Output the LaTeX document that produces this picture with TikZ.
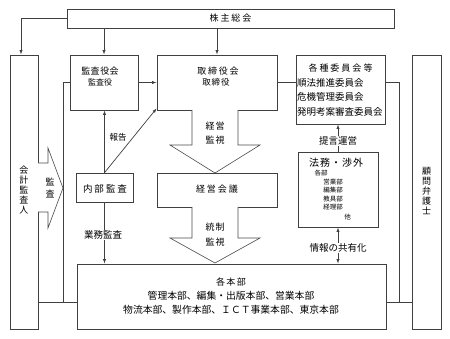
\documentclass[tikz,border=0pt]{standalone}
\usepackage{fontspec}
\setmainfont{Noto Sans CJK JP}
\usetikzlibrary{arrows.meta}
\newcommand\fsz[1]{\fontsize{#1}{#1}\selectfont}
\begin{document}
\begin{tikzpicture}[x=1pt,y=-1pt,
 box/.style={draw=black!75, line width=0.7pt, fill=white, inner sep=0pt},
 lbl/.style={inner sep=0.5pt, text=black},
 onl/.style={lbl, fill=white, inner sep=1pt},
 conn/.style={draw=black!75, line width=0.7pt},
 arr/.style={conn, -{Latex[length=4.5pt,width=3.2pt]}},
 darr/.style={conn, {Latex[length=4.5pt,width=3.2pt]}-{Latex[length=4.5pt,width=3.2pt]}},
 hollow/.style={draw=black!70, line width=0.6pt, fill=white}
]
\useasboundingbox[fill=white] (0,0) rectangle (450,339);

% boxes
\node[box, minimum width=327, minimum height=19] (kabu) at (230.5,18.5) {};
\node[box, minimum width=28, minimum height=274] (kaikei) at (24,192) {};
\node[box, minimum width=29, minimum height=274] (komon) at (426.5,192) {};
\node[box, minimum width=68, minimum height=55] (kansa) at (104,82.5) {};
\node[box, minimum width=120, minimum height=55] (tori) at (217,82.5) {};
\node[box, minimum width=89, minimum height=69] (iinkai) at (340.5,89.5) {};
\node[box, minimum width=57, minimum height=29] (naibu) at (104.5,187.5) {};
\node[box, minimum width=120, minimum height=34] (keiei) at (217,190) {};
\node[box, minimum width=80, minimum height=75] (houmu) at (338,189.5) {};
\node[box, minimum width=309, minimum height=65] (honbu) at (231.5,296.5) {};

% frame coordinates
\coordinate (fl) at (63,302);
\coordinate (fr) at (399,302);

% connectors
\draw[arr] (kabu.west) -| ([xshift=-3]kaikei.north);
\draw[arr] (kabu.south -| kansa.north) -- (kansa.north);
\draw[arr] (kabu.south -| tori.north) -- (tori.north);
\draw[arr] (kansa.east) -- (tori.west);
\draw[conn] (tori.east) -- (tori.east -| iinkai.west);
\draw[arr] (naibu.north) -- (naibu.north |- kansa.south);
\draw[arr] (naibu.north) -- ([yshift=2]tori.south west);
\draw[arr] (naibu.south) -- (naibu.south |- honbu.north);
\draw[arr] (houmu.north) -- (houmu.north |- iinkai.south);
\draw[darr] (houmu.south) -- (houmu.south |- honbu.north);

% frame
\draw[conn] (kansa.west) -| (fl);
\draw[conn] (kaikei.east |- fl) -- (honbu.west |- fl);
\draw[conn] (iinkai.east |- tori.east) -| (fr);
\draw[conn] (honbu.east |- fr) -- (komon.west |- fr);

% hollow arrows
\draw[hollow] (38,163) -- (48,163) -- (48,148) -- (63,188) -- (48,228) -- (48,212) -- (38,212);
\draw[hollow] (192,110) -- (192,145) -- (170,145) -- (215,173) -- (260,145) -- (238,145) -- (238,110);
\draw[hollow] (192,207) -- (192,238) -- (170,238) -- (215,263) -- (260,238) -- (238,238) -- (238,207);

% texts
\node[lbl, font=\fsz{9}] (t1) at (230.5,18.5) {株\kern2pt 主\kern2pt 総\kern2pt 会};
\node[lbl, font=\fsz{9}] (t2) at (100,71) {監\kern0.5pt 査\kern0.5pt 役\kern0.5pt 会};
\node[lbl, font=\fsz{8}] (t3) at (100,82) {監査役};
\node[lbl, font=\fsz{9}] (t4) at (218,71) {取\kern1.7pt 締\kern1.7pt 役\kern1.7pt 会};
\node[lbl, font=\fsz{8.5}] (t5) at (216,82) {取\kern1pt 締\kern1pt 役};
\node[lbl, font=\fsz{9}] (t6) at (340.5,68) {各\kern2pt 種\kern2pt 委\kern2pt 員\kern2pt 会\kern2pt 等};
\node[lbl, font=\fsz{9.5}, anchor=west] (t7) at (296.5,82.5) {順法推進委員会};
\node[lbl, font=\fsz{9.5}, anchor=west] (t8) at (296.5,97) {危機管理委員会};
\node[lbl, font=\fsz{9.5}, anchor=west] (t9) at (296.5,112) {発明考案審査委員会};
\node[lbl, font=\fsz{9.5}] (t10) at (105,189) {内\kern2pt 部\kern2pt 監\kern2pt 査};
\node[lbl, font=\fsz{9}] (t11) at (217,189) {経\kern2pt 営\kern2pt 会\kern2pt 議};
\node[lbl, font=\fsz{8.5}] (t12) at (118,137) {報告};
\node[onl, font=\fsz{9.5}] (t13) at (103,235) {業務監査};
\node[lbl, font=\fsz{9}] (t14) at (215,126) {経\kern1pt 営};
\node[lbl, font=\fsz{9}] (t15) at (215,140) {監\kern1pt 視};
\node[lbl, font=\fsz{9}] (t16) at (215,227) {統\kern1pt 制};
\node[lbl, font=\fsz{9}] (t17) at (215,242) {監\kern1pt 視};
\node[lbl, font=\fontsize{9}{12}\selectfont, align=center] (t18) at (50,188) {監\\査};
\node[lbl, font=\fontsize{9}{10}\selectfont, align=center] (t19) at (24,190) {会\\計\\監\\査\\人};
\node[lbl, font=\fontsize{9}{9.8}\selectfont, align=center] (t20) at (426.5,191) {顧\\問\\弁\\護\\士};
\node[lbl, font=\fsz{10}] (t21) at (336,163) {法\kern1pt 務\kern1pt ・\kern1pt 渉\kern1pt 外};
\node[lbl, font=\fsz{6.5}] (t22) at (321,173) {各部};
\node[lbl, font=\fsz{6.5}] (t23) at (333,182) {営業部};
\node[lbl, font=\fsz{6.5}] (t24) at (333,190.5) {編集部};
\node[lbl, font=\fsz{6.5}] (t25) at (333,199) {教具部};
\node[lbl, font=\fsz{6.5}] (t26) at (333,207.5) {経理部};
\node[lbl, font=\fsz{6.5}] (t27) at (347.5,217) {他};
\node[onl, font=\fsz{9.5}] (t28) at (338,141) {提言運営};
\node[onl, font=\fsz{9.5}] (t29) at (338,248) {情報の共有化};
\node[lbl, font=\fsz{9}] (t30) at (231,282) {各\kern1.5pt 本\kern1.5pt 部};
\node[lbl, font=\fsz{9.8}] (t31) at (231,296) {管理本部、編集・出版本部、営業本部};
\node[lbl, font=\fsz{9.8}] (t32) at (231,310) {物流本部、製作本部、ＩＣＴ事業本部、東京本部};
\end{tikzpicture}
\end{document}
